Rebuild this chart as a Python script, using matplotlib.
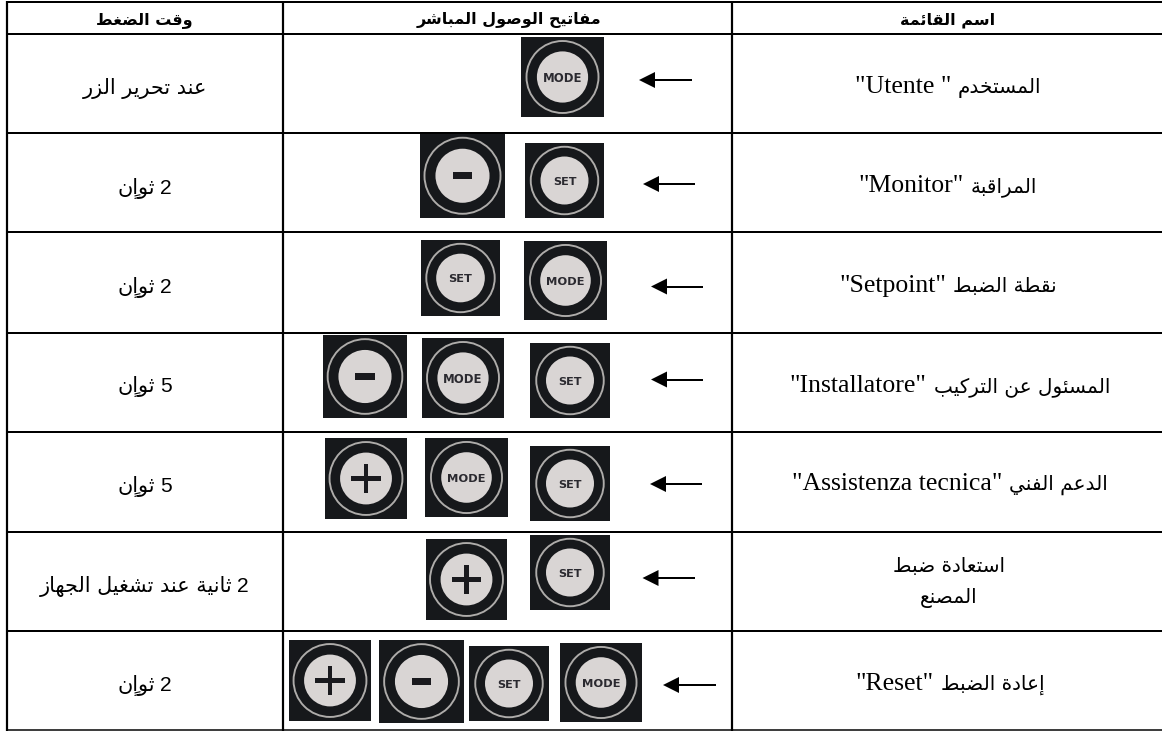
import re
import matplotlib
matplotlib.use("Agg")
import matplotlib.pyplot as plt
from matplotlib.patches import Rectangle, Circle, Polygon

# ---------- content ----------
HEADERS = ["وقت الضغط", "مفاتيح الوصول المباشر", "اسم القائمة"]
MENU_NAMES = [
    ['المستخدم "Utente "'],
    ['المراقبة "Monitor"'],
    ['نقطة الضبط "Setpoint"'],
    ['المسئول عن التركيب "Installatore"'],
    ['الدعم الفني "Assistenza tecnica"'],
    ['استعادة ضبط', 'المصنع'],
    ['إعادة الضبط "Reset"'],
]
PRESS_TIMES = ["عند تحرير الزر", "2 ثوانٍ", "2 ثوانٍ", "5 ثوانٍ", "5 ثوانٍ",
               "2 ثانية عند تشغيل الجهاز", "2 ثوانٍ"]
ROW_KEYS = [
    ["MODE"],
    ["-", "SET"],
    ["SET", "MODE"],
    ["-", "MODE", "SET"],
    ["+", "MODE", "SET"],
    ["+", "SET"],
    ["+", "-", "SET", "MODE"],
]

# ---------- layout (pixels, top-left origin) ----------
W, H = 1162, 731
V_LINES = [6.7, 283, 732]
H_LINES = [2, 34, 132.7, 232.4, 332.7, 431.7, 531.7, 630.7]
KEY_BOXES = [
    [(521, 37, 604, 117)],
    [(420, 133.5, 505, 218), (525, 143, 604, 218)],
    [(421, 240, 500, 316), (524, 241, 607, 320)],
    [(323, 335, 407, 418), (422, 338, 504, 418), (530, 343, 610, 418)],
    [(325, 438, 407, 519), (425, 438, 508, 517), (530, 446, 610, 521)],
    [(426, 539, 507, 620), (530, 535, 610, 610)],
    [(289, 640, 371, 721), (379, 640, 464, 723), (469, 646, 549, 721), (560, 643, 642, 722)],
]
ARROWS = [(639, 692, 80), (643, 695, 184), (651, 703, 286.5), (651, 702.5, 379.5),
          (650, 702, 484), (642.5, 694.5, 578), (663, 716, 685)]
NAME_POS = [(948, [93]), (948, [192]), (948, [292]), (950, [392]), (950, [490]),
            (949, [572, 603]), (950, [690])]
TIME_POS = [(145, 94), (145, 193.5), (145, 293), (145, 391.7), (145, 491.7), (144, 591.7), (145, 691)]
HEADER_POS = [(144, 24), (509, 24), (948, 24)]

LATIN_PX = 25.8
DIGIT_PX = 21.0
NAME_ARABIC_REF, NAME_ARABIC_WIDTH = "المسئول عن التركيب", 176
TIME_ARABIC_REF, TIME_ARABIC_WIDTH = "ثانية عند تشغيل الجهاز", 192
HEAD_ARABIC_REF, HEAD_ARABIC_WIDTH = "اسم القائمة", 95

# ---------- minimal Arabic shaping ----------
FORMS = {  # isolated, final, initial, medial
    'ء': (0xFE80,), 'إ': (0xFE87, 0xFE88), 'ئ': (0xFE89, 0xFE8A, 0xFE8B, 0xFE8C),
    'ا': (0xFE8D, 0xFE8E), 'ب': (0xFE8F, 0xFE90, 0xFE91, 0xFE92),
    'ة': (0xFE93, 0xFE94), 'ت': (0xFE95, 0xFE96, 0xFE97, 0xFE98),
    'ث': (0xFE99, 0xFE9A, 0xFE9B, 0xFE9C), 'ج': (0xFE9D, 0xFE9E, 0xFE9F, 0xFEA0),
    'ح': (0xFEA1, 0xFEA2, 0xFEA3, 0xFEA4), 'خ': (0xFEA5, 0xFEA6, 0xFEA7, 0xFEA8),
    'د': (0xFEA9, 0xFEAA), 'ر': (0xFEAD, 0xFEAE), 'ز': (0xFEAF, 0xFEB0),
    'س': (0xFEB1, 0xFEB2, 0xFEB3, 0xFEB4), 'ش': (0xFEB5, 0xFEB6, 0xFEB7, 0xFEB8),
    'ص': (0xFEB9, 0xFEBA, 0xFEBB, 0xFEBC), 'ض': (0xFEBD, 0xFEBE, 0xFEBF, 0xFEC0),
    'ط': (0xFEC1, 0xFEC2, 0xFEC3, 0xFEC4), 'ع': (0xFEC9, 0xFECA, 0xFECB, 0xFECC),
    'غ': (0xFECD, 0xFECE, 0xFECF, 0xFED0), 'ف': (0xFED1, 0xFED2, 0xFED3, 0xFED4),
    'ق': (0xFED5, 0xFED6, 0xFED7, 0xFED8), 'ك': (0xFED9, 0xFEDA, 0xFEDB, 0xFEDC),
    'ل': (0xFEDD, 0xFEDE, 0xFEDF, 0xFEE0), 'م': (0xFEE1, 0xFEE2, 0xFEE3, 0xFEE4),
    'ن': (0xFEE5, 0xFEE6, 0xFEE7, 0xFEE8), 'ه': (0xFEE9, 0xFEEA, 0xFEEB, 0xFEEC),
    'و': (0xFEED, 0xFEEE), 'ي': (0xFEF1, 0xFEF2, 0xFEF3, 0xFEF4),
}
MARKS = {'\u064D'}


def shape_word(word):
    clusters = []
    for ch in word:
        if ch in MARKS and clusters:
            clusters[-1][1] += ch
        else:
            clusters.append([ch, ''])
    out = []
    for i, (ch, mark) in enumerate(clusters):
        f = FORMS.get(ch)
        if f is None:
            out.append(ch + mark)
            continue
        prev_joins = i > 0 and clusters[i - 1][0] in FORMS and len(FORMS[clusters[i - 1][0]]) == 4
        next_joins = i + 1 < len(clusters) and clusters[i + 1][0] in FORMS and len(FORMS[clusters[i + 1][0]]) >= 2
        if len(f) == 4 and prev_joins and next_joins:
            g = f[3]
        elif len(f) == 4 and next_joins:
            g = f[2]
        elif len(f) >= 2 and prev_joins:
            g = f[1]
        else:
            g = f[0]
        out.append(chr(g) + mark)
    return ''.join(reversed(out))


def arabic_visual(run):
    return ' '.join(shape_word(w) for w in reversed(run.split(' ')))


def visual_runs(s):
    """Split logical right-to-left text into visually ordered (kind, text) runs."""
    parts = re.split(r'("[^"]*"|\d+)', s)
    runs = []
    for p in parts:
        p = p.strip()
        if not p:
            continue
        kind = 'latin' if p.startswith('"') else 'digit' if p.isdigit() else 'arabic'
        runs.append((kind, arabic_visual(p) if kind == 'arabic' else p))
    return list(reversed(runs))


# ---------- drawing ----------
fig = plt.figure(figsize=(W / 100, H / 100), dpi=100, facecolor='white')
ax = fig.add_axes([0, 0, 1, 1])
ax.set_xlim(0, W)
ax.set_ylim(H, 0)
ax.axis('off')
PX = 72 / 100  # points per pixel
renderer = fig.canvas.get_renderer()


def fit_px(text, target, weight='normal'):
    t = ax.text(0, 0, arabic_visual(text), family='DejaVu Sans', fontsize=100 * PX, weight=weight)
    w = t.get_window_extent(renderer).width
    t.remove()
    return 100 * target / w


def draw_line(xc, base, s, latin_family, arabic_px, latin_px, digit_px, gap, weight='normal'):
    items = []
    for kind, txt in visual_runs(s):
        if kind == 'arabic':
            fam, size = 'DejaVu Sans', arabic_px
        elif kind == 'digit':
            fam, size = 'Liberation Sans', digit_px
        else:
            fam, size = latin_family, latin_px
        t = ax.text(0, base, txt, family=fam, fontsize=size * PX, weight=weight,
                    ha='left', va='baseline', color='black', zorder=5)
        items.append((t, t.get_window_extent(renderer).width))
    total = sum(w for _, w in items) + gap * (len(items) - 1)
    x = xc - total / 2
    for t, w in items:
        t.set_x(x)
        x += w + gap


def draw_key(kind, box):
    x0, y0, x1, y1 = box
    w, h = x1 - x0, y1 - y0
    cx, cy = (x0 + x1) / 2, (y0 + y1) / 2
    s = min(w, h)
    ax.add_patch(Rectangle((x0, y0), w, h, fc='#16181b', ec='none', zorder=2))
    ax.add_patch(Circle((cx, cy), 0.45 * s, fc='none', ec='#aeacaa', lw=1.9 * PX, zorder=3))
    ax.add_patch(Circle((cx, cy), 0.32 * s, fc='#d9d5d4', ec='none', zorder=3))
    if kind in ('MODE', 'SET'):
        ax.text(cx, cy + 0.015 * s, kind, family='DejaVu Sans', weight='bold', color='#2b2a30',
                fontsize=(0.145 if kind == 'MODE' else 0.15) * s * PX, ha='center', va='center', zorder=4)
    elif kind == '-':
        a, b = 0.118 * s, 0.043 * s
        ax.add_patch(Rectangle((cx - a, cy - b), 2 * a, 2 * b, fc='#1a1a1e', ec='none', zorder=4))
    else:
        a, b = 0.18 * s, 0.028 * s
        ax.add_patch(Rectangle((cx - a, cy - b), 2 * a, 2 * b, fc='#1a1a1e', ec='none', zorder=4))
        ax.add_patch(Rectangle((cx - b, cy - a), 2 * b, 2 * a, fc='#1a1a1e', ec='none', zorder=4))


def draw_arrow(x0, x1, y):
    ax.plot([x0 + 8, x1], [y, y], color='black', lw=2 * PX, solid_capstyle='butt', zorder=2)
    ax.add_patch(Polygon([(x0, y), (x0 + 16, y - 8), (x0 + 16, y + 8)], fc='black', ec='none', zorder=2))


for y in H_LINES:
    ax.plot([6, W], [y, y], color='black', lw=2 * PX, solid_capstyle='butt', zorder=1)
ax.plot([6, W], [730.2, 730.2], color='black', lw=1.5 * PX, solid_capstyle='butt', zorder=1)
for x in V_LINES:
    ax.plot([x, x], [1, 731], color='black', lw=2.2 * PX, solid_capstyle='butt', zorder=1)

head_px = fit_px(HEAD_ARABIC_REF, HEAD_ARABIC_WIDTH, weight='bold')
name_px = fit_px(NAME_ARABIC_REF, NAME_ARABIC_WIDTH)
time_px = fit_px(TIME_ARABIC_REF, TIME_ARABIC_WIDTH)

for (xc, base), s in zip(HEADER_POS, HEADERS):
    draw_line(xc, base, s, 'Liberation Sans', head_px, LATIN_PX, DIGIT_PX, 5, weight='bold')

for (xc, bases), lines in zip(NAME_POS, MENU_NAMES):
    for base, s in zip(bases, lines):
        draw_line(xc, base, s, 'Liberation Serif', name_px, LATIN_PX, DIGIT_PX, 7)

for (xc, base), s in zip(TIME_POS, PRESS_TIMES):
    draw_line(xc, base, s, 'Liberation Sans', time_px, LATIN_PX, DIGIT_PX, 5)

for keys, boxes, arrow in zip(ROW_KEYS, KEY_BOXES, ARROWS):
    for k, b in zip(keys, boxes):
        draw_key(k, b)
    draw_arrow(*arrow)

fig.savefig('out.png', dpi=100)
